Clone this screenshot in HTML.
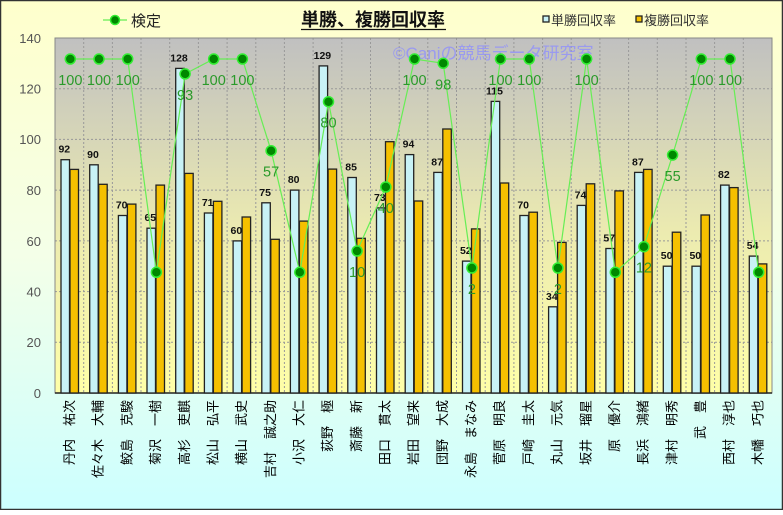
<!DOCTYPE html>
<html><head><meta charset="utf-8"><style>
html,body{margin:0;padding:0;}
body{width:783px;height:510px;overflow:hidden;}
</style></head><body>
<svg width="783" height="510" xmlns="http://www.w3.org/2000/svg" font-family="Liberation Sans, Noto Sans CJK JP, sans-serif">
<defs>
<linearGradient id="bg" x1="0" y1="0" x2="0" y2="1"><stop offset="0" stop-color="#ffffcc"/><stop offset="0.5" stop-color="#f4ffe8"/><stop offset="1" stop-color="#ccffff"/></linearGradient>
<linearGradient id="pa" x1="0" y1="0" x2="0" y2="1"><stop offset="0" stop-color="#c0c0c0"/><stop offset="0.55" stop-color="#ecebb0"/><stop offset="1" stop-color="#ffffa8"/></linearGradient>
</defs>
<rect x="0.5" y="0.5" width="782" height="509" fill="url(#bg)" stroke="#333" stroke-width="1.5"/>
<rect x="55" y="38" width="717" height="355" fill="url(#pa)"/>
<g stroke="#999" stroke-dasharray="2,2" stroke-width="1">
<line x1="55" x2="772" y1="88.7" y2="88.7"/><line x1="55" x2="772" y1="139.4" y2="139.4"/><line x1="55" x2="772" y1="190.1" y2="190.1"/><line x1="55" x2="772" y1="240.9" y2="240.9"/><line x1="55" x2="772" y1="291.6" y2="291.6"/><line x1="55" x2="772" y1="342.3" y2="342.3"/>
<line x1="83.7" x2="83.7" y1="38" y2="393"/><line x1="112.4" x2="112.4" y1="38" y2="393"/><line x1="141" x2="141" y1="38" y2="393"/><line x1="169.7" x2="169.7" y1="38" y2="393"/><line x1="198.4" x2="198.4" y1="38" y2="393"/><line x1="227.1" x2="227.1" y1="38" y2="393"/><line x1="255.8" x2="255.8" y1="38" y2="393"/><line x1="284.4" x2="284.4" y1="38" y2="393"/><line x1="313.1" x2="313.1" y1="38" y2="393"/><line x1="341.8" x2="341.8" y1="38" y2="393"/><line x1="370.5" x2="370.5" y1="38" y2="393"/><line x1="399.2" x2="399.2" y1="38" y2="393"/><line x1="427.8" x2="427.8" y1="38" y2="393"/><line x1="456.5" x2="456.5" y1="38" y2="393"/><line x1="485.2" x2="485.2" y1="38" y2="393"/><line x1="513.9" x2="513.9" y1="38" y2="393"/><line x1="542.6" x2="542.6" y1="38" y2="393"/><line x1="571.2" x2="571.2" y1="38" y2="393"/><line x1="599.9" x2="599.9" y1="38" y2="393"/><line x1="628.6" x2="628.6" y1="38" y2="393"/><line x1="657.3" x2="657.3" y1="38" y2="393"/><line x1="686" x2="686" y1="38" y2="393"/><line x1="714.6" x2="714.6" y1="38" y2="393"/><line x1="743.3" x2="743.3" y1="38" y2="393"/>
</g>
<rect x="55" y="38" width="717" height="355" fill="none" stroke="#888" stroke-width="1"/>
<line x1="55" x2="772" y1="393" y2="393" stroke="#222" stroke-width="1.5"/>
<g font-size="13" fill="#555" text-anchor="end">
<text x="41" y="43">140</text><text x="41" y="93.5">120</text><text x="41" y="144">100</text><text x="41" y="195">80</text><text x="41" y="246">60</text><text x="41" y="296.5">40</text><text x="41" y="347">20</text><text x="41" y="398">0</text>
</g>
<text x="393" y="59" font-size="17" fill="#8c8cff" fill-opacity="0.75">©Caniの競馬データ研究室</text>
<g stroke="#222" stroke-width="1.3" fill="#c8f2f6">
<rect x="61" y="159.7" width="8.5" height="233.3"/><rect x="89.7" y="164.8" width="8.5" height="228.2"/><rect x="118.4" y="215.5" width="8.5" height="177.5"/><rect x="147" y="228.2" width="8.5" height="164.8"/><rect x="175.7" y="68.4" width="8.5" height="324.6"/><rect x="204.4" y="213" width="8.5" height="180"/><rect x="233.1" y="240.9" width="8.5" height="152.1"/><rect x="261.8" y="202.8" width="8.5" height="190.2"/><rect x="290.4" y="190.1" width="8.5" height="202.9"/><rect x="319.1" y="65.9" width="8.5" height="327.1"/><rect x="347.8" y="177.5" width="8.5" height="215.5"/><rect x="376.5" y="207.9" width="8.5" height="185.1"/><rect x="405.2" y="154.6" width="8.5" height="238.4"/><rect x="433.8" y="172.4" width="8.5" height="220.6"/><rect x="462.5" y="261.1" width="8.5" height="131.9"/><rect x="491.2" y="101.4" width="8.5" height="291.6"/><rect x="519.9" y="215.5" width="8.5" height="177.5"/><rect x="548.6" y="306.8" width="8.5" height="86.2"/><rect x="577.2" y="205.4" width="8.5" height="187.6"/><rect x="605.9" y="248.5" width="8.5" height="144.5"/><rect x="634.6" y="172.4" width="8.5" height="220.6"/><rect x="663.3" y="266.2" width="8.5" height="126.8"/><rect x="692" y="266.2" width="8.5" height="126.8"/><rect x="720.6" y="185.1" width="8.5" height="207.9"/><rect x="749.3" y="256.1" width="8.5" height="136.9"/>
</g>
<g stroke="#222" stroke-width="1.3" fill="#f5c000">
<rect x="70" y="169.4" width="8.5" height="223.6"/><rect x="98.7" y="184.3" width="8.5" height="208.7"/><rect x="127.4" y="204.1" width="8.5" height="188.9"/><rect x="156" y="185.1" width="8.5" height="207.9"/><rect x="184.7" y="173.4" width="8.5" height="219.6"/><rect x="213.4" y="201.3" width="8.5" height="191.7"/><rect x="242.1" y="217" width="8.5" height="176"/><rect x="270.8" y="239.3" width="8.5" height="153.7"/><rect x="299.4" y="221.1" width="8.5" height="171.9"/><rect x="328.1" y="169.1" width="8.5" height="223.9"/><rect x="356.8" y="238.3" width="8.5" height="154.7"/><rect x="385.5" y="141.7" width="8.5" height="251.3"/><rect x="414.2" y="201" width="8.5" height="192"/><rect x="442.8" y="129" width="8.5" height="264"/><rect x="471.5" y="228.9" width="8.5" height="164.1"/><rect x="500.2" y="183" width="8.5" height="210"/><rect x="528.9" y="212.2" width="8.5" height="180.8"/><rect x="557.6" y="242.4" width="8.5" height="150.6"/><rect x="586.2" y="183.8" width="8.5" height="209.2"/><rect x="614.9" y="190.9" width="8.5" height="202.1"/><rect x="643.6" y="169.4" width="8.5" height="223.6"/><rect x="672.3" y="232.2" width="8.5" height="160.8"/><rect x="701" y="215" width="8.5" height="178"/><rect x="729.6" y="187.6" width="8.5" height="205.4"/><rect x="758.3" y="263.9" width="8.5" height="129.1"/>
</g>
<g font-size="10.5" font-weight="bold" fill="#111" text-anchor="middle">
<text x="64.3" y="152.7">92</text><text x="93" y="157.8">90</text><text x="121.7" y="208.5">70</text><text x="150.3" y="221.2">65</text><text x="179" y="61.4">128</text><text x="207.7" y="206">71</text><text x="236.4" y="233.9">60</text><text x="265.1" y="195.8">75</text><text x="293.7" y="183.1">80</text><text x="322.4" y="58.9">129</text><text x="351.1" y="170.5">85</text><text x="379.8" y="200.9">73</text><text x="408.5" y="147.6">94</text><text x="437.1" y="165.4">87</text><text x="465.8" y="254.1">52</text><text x="494.5" y="94.4">115</text><text x="523.2" y="208.5">70</text><text x="551.9" y="299.8">34</text><text x="580.5" y="198.4">74</text><text x="609.2" y="241.5">57</text><text x="637.9" y="165.4">87</text><text x="666.6" y="259.2">50</text><text x="695.3" y="259.2">50</text><text x="723.9" y="178.1">82</text><text x="752.6" y="249.1">54</text>
</g>
<polyline fill="none" stroke="#66ee55" stroke-width="1.2" points="70.3,59 99,59 127.7,59 156.4,272.3 185.1,73.9 213.7,59 242.4,59 271.1,150.7 299.8,272.3 328.5,101.7 357.1,251 385.8,187 414.5,59 443.2,63.3 471.9,268 500.5,59 529.2,59 557.9,268 586.6,59 615.3,272.3 643.9,246.7 672.6,155 701.3,59 730,59 758.7,272.3"/>
<g fill="#008800" stroke="#33ee33" stroke-width="1.5">
<circle cx="70.3" cy="59" r="5"/><circle cx="99" cy="59" r="5"/><circle cx="127.7" cy="59" r="5"/><circle cx="156.4" cy="272.3" r="5"/><circle cx="185.1" cy="73.9" r="5"/><circle cx="213.7" cy="59" r="5"/><circle cx="242.4" cy="59" r="5"/><circle cx="271.1" cy="150.7" r="5"/><circle cx="299.8" cy="272.3" r="5"/><circle cx="328.5" cy="101.7" r="5"/><circle cx="357.1" cy="251" r="5"/><circle cx="385.8" cy="187" r="5"/><circle cx="414.5" cy="59" r="5"/><circle cx="443.2" cy="63.3" r="5"/><circle cx="471.9" cy="268" r="5"/><circle cx="500.5" cy="59" r="5"/><circle cx="529.2" cy="59" r="5"/><circle cx="557.9" cy="268" r="5"/><circle cx="586.6" cy="59" r="5"/><circle cx="615.3" cy="272.3" r="5"/><circle cx="643.9" cy="246.7" r="5"/><circle cx="672.6" cy="155" r="5"/><circle cx="701.3" cy="59" r="5"/><circle cx="730" cy="59" r="5"/><circle cx="758.7" cy="272.3" r="5"/>
</g>
<g font-size="14.5" fill="#2a9a2a" text-anchor="middle">
<text x="70.3" y="85">100</text><text x="99" y="85">100</text><text x="127.7" y="85">100</text><text x="185.1" y="99.9">93</text><text x="213.7" y="85">100</text><text x="242.4" y="85">100</text><text x="271.1" y="176.7">57</text><text x="328.5" y="127.7">80</text><text x="357.1" y="277">10</text><text x="385.8" y="213">40</text><text x="414.5" y="85">100</text><text x="443.2" y="89.3">98</text><text x="471.9" y="294">2</text><text x="500.5" y="85">100</text><text x="529.2" y="85">100</text><text x="557.9" y="294">2</text><text x="586.6" y="85">100</text><text x="643.9" y="272.7">12</text><text x="672.6" y="181">55</text><text x="701.3" y="85">100</text><text x="730" y="85">100</text>
</g>
<g font-size="13" fill="#000" text-anchor="end">
<text transform="translate(74,400) rotate(-90)">丹内　祐次</text>
<text transform="translate(102.7,400) rotate(-90)">佐々木　大輔</text>
<text transform="translate(131.4,400) rotate(-90)">鮫島　克駿</text>
<text transform="translate(160.1,400) rotate(-90)">菊沢　一樹</text>
<text transform="translate(188.8,400) rotate(-90)">高杉　吏麒</text>
<text transform="translate(217.4,400) rotate(-90)">松山　弘平</text>
<text transform="translate(246.1,400) rotate(-90)">横山　武史</text>
<text transform="translate(274.8,400) rotate(-90)">吉村　誠之助</text>
<text transform="translate(303.5,400) rotate(-90)">小沢　大仁</text>
<text transform="translate(332.2,400) rotate(-90)">荻野　極</text>
<text transform="translate(360.8,400) rotate(-90)">斎藤　新</text>
<text transform="translate(389.5,400) rotate(-90)">田口　貫太</text>
<text transform="translate(418.2,400) rotate(-90)">岩田　望来</text>
<text transform="translate(446.9,400) rotate(-90)">団野　大成</text>
<text transform="translate(475.6,400) rotate(-90)">永島　まなみ</text>
<text transform="translate(504.2,400) rotate(-90)">菅原　明良</text>
<text transform="translate(532.9,400) rotate(-90)">戸崎　圭太</text>
<text transform="translate(561.6,400) rotate(-90)">丸山　元気</text>
<text transform="translate(590.3,400) rotate(-90)">坂井　瑠星</text>
<text transform="translate(619,400) rotate(-90)">原　優介</text>
<text transform="translate(647.6,400) rotate(-90)">長浜　鴻緒</text>
<text transform="translate(676.3,400) rotate(-90)">津村　明秀</text>
<text transform="translate(705,400) rotate(-90)">武　豊</text>
<text transform="translate(733.7,400) rotate(-90)">西村　淳也</text>
<text transform="translate(762.4,400) rotate(-90)">木幡　巧也</text>
</g>
<line x1="103" x2="127" y1="20" y2="20" stroke="#66ee55" stroke-width="1.2"/>
<circle cx="115" cy="20" r="4.5" fill="#008800" stroke="#33ee33" stroke-width="1.5"/>
<text x="131" y="26" font-size="15" fill="#222">検定</text>
<text x="301" y="26" font-size="18" font-weight="bold" fill="#111">単勝、複勝回収率</text>
<line x1="301" x2="446" y1="29.5" y2="29.5" stroke="#111" stroke-width="1.3"/>
<rect x="543" y="16" width="6" height="6" fill="#c8f2f6" stroke="#222" stroke-width="1.3"/>
<text x="551" y="25" font-size="13" fill="#333">単勝回収率</text>
<rect x="636" y="16" width="6" height="6" fill="#f5c000" stroke="#222" stroke-width="1.3"/>
<text x="644" y="25" font-size="13" fill="#333">複勝回収率</text>
</svg>
</body></html>
